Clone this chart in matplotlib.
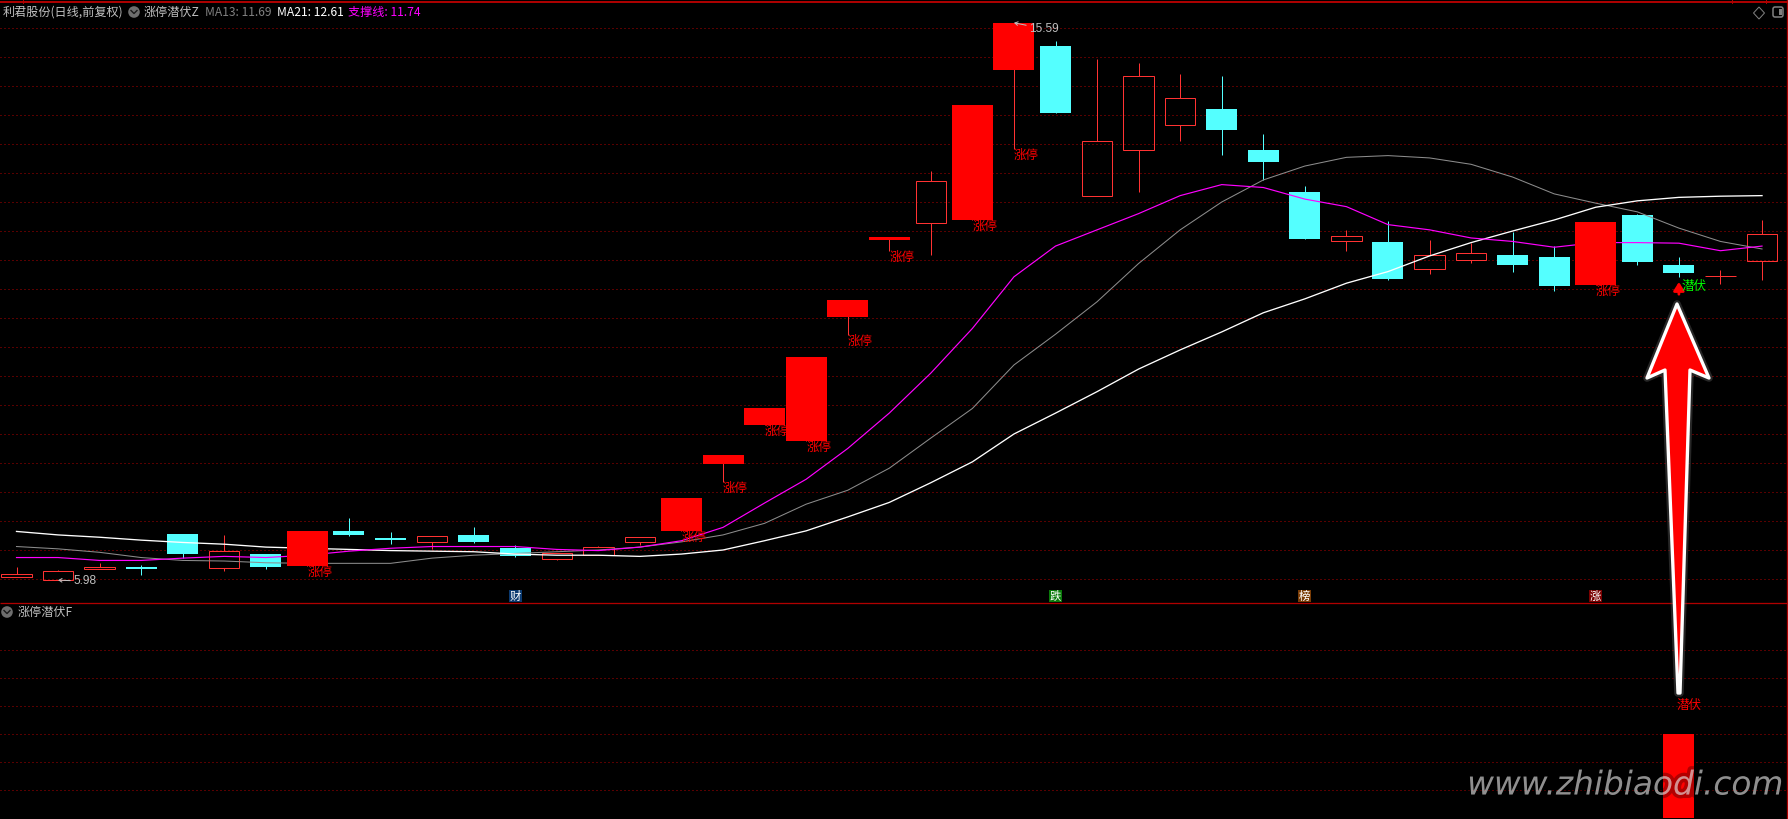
import matplotlib
matplotlib.use("Agg")
import matplotlib.pyplot as plt
import matplotlib.patheffects as pe
from matplotlib.patches import Polygon, Circle, FancyBboxPatch, Rectangle
import numpy as np

plt.rcParams['font.family'] = ['Noto Sans CJK SC', 'DejaVu Sans']

opens = [6.04, 5.99, 6.17, 6.19, 6.78, 6.19, 6.43, 6.23, 6.83, 6.71, 6.63, 6.76, 6.53, 6.35, 6.41,
         6.63, 6.83, 7.98, 8.66, 8.38, 10.52, 11.84, 12.14, 12.19, 14.78, 15.19, 12.61, 13.40, 13.83,
         14.10, 13.40, 12.67, 11.82, 11.81, 11.35, 11.50, 11.59, 11.55, 11.07, 12.28, 11.41, 11.22, 11.49]
closes = [6.08, 6.13, 6.21, 6.18, 6.43, 6.48, 6.21, 6.83, 6.76, 6.68, 6.74, 6.64, 6.40, 6.44, 6.55,
          6.72, 7.40, 8.14, 8.95, 9.83, 10.81, 11.90, 12.87, 14.17, 15.59, 14.03, 13.55, 14.68, 14.29,
          13.74, 13.19, 11.86, 11.91, 11.17, 11.58, 11.62, 11.41, 11.05, 12.16, 11.47, 11.28, 11.22, 11.94]
highs = [6.21, 6.16, 6.28, 6.24, 6.78, 6.76, 6.43, 6.83, 7.05, 6.81, 6.74, 6.90, 6.59, 6.44, 6.57,
         6.72, 7.40, 8.14, 8.95, 9.83, 10.81, 11.90, 13.03, 14.17, 15.59, 15.28, 14.96, 14.90, 14.71,
         14.67, 13.67, 12.78, 12.02, 12.17, 11.84, 11.79, 11.98, 11.74, 12.16, 12.29, 11.55, 11.33, 12.19]
lows = [6.04, 5.98, 6.17, 6.07, 6.36, 6.13, 6.18, 6.23, 6.74, 6.60, 6.52, 6.62, 6.38, 6.33, 6.41,
        6.59, 6.83, 7.68, 8.66, 8.38, 10.21, 11.66, 11.59, 12.19, 13.41, 14.03, 12.61, 12.67, 13.55,
        13.31, 12.88, 11.86, 11.65, 11.15, 11.26, 11.45, 11.29, 10.97, 11.07, 11.41, 11.21, 11.09, 11.16]
ma13 = [6.56, 6.52, 6.46, 6.37, 6.32, 6.31, 6.28, 6.27, 6.27, 6.27, 6.36, 6.41, 6.44, 6.47, 6.50,
        6.55, 6.64, 6.76, 6.96, 7.29, 7.53, 7.91, 8.43, 8.94, 9.69, 10.22, 10.78, 11.44, 12.02,
        12.50, 12.88, 13.12, 13.27, 13.30, 13.26, 13.15, 12.93, 12.64, 12.48, 12.33, 12.05, 11.82, 11.69]
ma21 = [6.82, 6.76, 6.72, 6.67, 6.63, 6.60, 6.55, 6.53, 6.51, 6.49, 6.48, 6.47, 6.43, 6.41, 6.41,
        6.39, 6.43, 6.50, 6.66, 6.83, 7.07, 7.32, 7.66, 8.02, 8.50, 8.86, 9.23, 9.62, 9.95,
        10.26, 10.59, 10.83, 11.10, 11.30, 11.57, 11.80, 12.00, 12.19, 12.41, 12.52, 12.58, 12.60, 12.61]
support = [6.37, 6.37, 6.32, 6.32, 6.36, 6.39, 6.37, 6.41, 6.48, 6.53, 6.56, 6.56, 6.56, 6.51, 6.49,
           6.55, 6.66, 6.89, 7.31, 7.72, 8.25, 8.86, 9.55, 10.32, 11.21, 11.74, 12.02, 12.30, 12.61,
           12.80, 12.75, 12.55, 12.42, 12.11, 12.02, 11.88, 11.82, 11.72, 11.80, 11.80, 11.79, 11.66, 11.74]
limit_up = [7, 16, 17, 18, 19, 20, 21, 23, 24, 38]
news_days = [12, 25, 31, 38]
news_labels = ['财', '跌', '榜', '涨']
news_colors = ['#0b3a70', '#0a7a0a', '#7a3c05', '#7a0000']
lower_day = [40]
lower_vals = [1.0]
grid_prices = np.arange(6.0, 16.0, 0.5)
lower_grid = [1/3, 2/3, 1.0, 4/3, 5/3, 2.0]

RED, HOLLOW, CYAN, GRID = '#ff0000', '#ff3232', '#54ffff', '#b00000'
PX = 0.72
W, H = 1788, 819
x_left, x_right = -16.5 / 41.56, (W - 16.5) / 41.56
days = np.arange(len(opens))

fig = plt.figure(figsize=(W / 100, H / 100), dpi=100, facecolor='black')
ax = fig.add_axes([0, (H - 603) / H, 1, 601 / H], facecolor='black')
ax.set_xlim(x_left, x_right)
ax.set_ylim(6 - 24 / 58, 6 + 577 / 58)
low_ax = fig.add_axes([0, 0, 1, 216 / H], facecolor='black')
low_ax.set_xlim(x_left, x_right)
low_ax.set_ylim(-1 / 84, 1 + 131 / 84)
for a in (ax, low_ax):
    a.set_xticks([])
    a.set_yticks([])
    for s in a.spines.values():
        s.set_visible(False)

dots = (0, (1, 3))
for g in grid_prices:
    ax.axhline(g, color=GRID, lw=PX, ls=dots, zorder=1, snap=True)
for g in lower_grid:
    low_ax.axhline(g, color=GRID, lw=PX, ls=dots, zorder=1, snap=True)

for i in days:
    o, c, hi, lo = opens[i], closes[i], highs[i], lows[i]
    top, bot = max(o, c), min(o, c)
    if i in limit_up:
        ax.vlines(i, lo, hi, color=HOLLOW, lw=PX, zorder=5, snap=True)
        ax.bar(i, top - bot, bottom=bot, width=0.987, color=RED, linewidth=0, zorder=5, antialiased=False)
    elif c < o:
        ax.vlines(i, lo, hi, color=CYAN, lw=PX, zorder=2, snap=True)
        ax.bar(i, max(top - bot, 0.02), bottom=bot, width=0.746, color=CYAN, linewidth=0, zorder=2, antialiased=False)
    else:
        ax.vlines(i, lo, bot, color=HOLLOW, lw=PX, zorder=3, snap=True)
        ax.vlines(i, top, hi, color=HOLLOW, lw=PX, zorder=3, snap=True)
        ax.bar(i, top - bot, bottom=bot, width=0.73, fill=False, edgecolor=HOLLOW, linewidth=PX,
               zorder=3, snap=True)

ax.plot(days, ma13, color='#8c8c8c', lw=0.75, zorder=4)
ax.plot(days, ma21, color='#ffffff', lw=0.95, zorder=4)
ax.plot(days, support, color='#ff00ff', lw=0.85, zorder=4)

for i in limit_up:
    ax.annotate('涨停', xy=(i, lows[i]), xytext=(0, -6.5 * PX), textcoords='offset points',
                ha='left', va='center', color=RED, fontsize=9, zorder=7)

# extreme price callouts
for i, off in ((1, (15, -1)), (24, (15, -6))):
    price = lows[i] if i == 1 else highs[i]
    ax.annotate(f'{price:.2f}', xy=(i, price), xytext=(off[0] * PX, off[1] * PX), textcoords='offset points',
                ha='left', va='center', color='#c0c0c0', fontsize=8.6, family='Liberation Sans', zorder=8,
                arrowprops=dict(arrowstyle='->,head_length=0.25,head_width=0.15', color='#c0c0c0', lw=PX,
                                shrinkA=0, shrinkB=0))

# lurk signal on the day in the main panel
d = lower_day[0]
ax.annotate('', xy=(d, 11.12), xytext=(d, 10.91), zorder=8,
            arrowprops=dict(arrowstyle='-|>,head_length=0.55,head_width=0.35', mutation_scale=9, lw=2,
                            color=RED, shrinkA=0, shrinkB=0))
ax.annotate('潜伏', xy=(d, 11.05), xytext=(3 * PX, 0), textcoords='offset points', ha='left', va='center',
            color='#00ff00', fontsize=9, zorder=8)

for i, lab, col in zip(news_days, news_labels, news_colors):
    ax.text(i, 6 - 17 / 58, lab, ha='center', va='center', color='white', fontsize=8.2, zorder=8,
            bbox=dict(boxstyle='square,pad=0.06', fc=col, ec='none'))

low_ax.bar(lower_day, lower_vals, width=0.746, color=RED, linewidth=0, zorder=3, antialiased=False)
low_ax.annotate('潜伏', xy=(lower_day[0], 1 + 28 / 84), xytext=(-2 * PX, 0), textcoords='offset points',
                ha='left', va='center', color=RED, fontsize=9, zorder=6)

# overlay in image pixels: frame, header, big arrow, watermark
ov = fig.add_axes([0, 0, 1, 1], facecolor='none')
ov.set_xlim(0, W)
ov.set_ylim(H, 0)
ov.axis('off')
FRAME = '#b00000'
ov.plot([0, W], [2.2, 2.2], color=FRAME, lw=1.5 * PX * 1.3, solid_capstyle='butt')
ov.plot([0, W], [603, 603], color=FRAME, lw=PX * 1.3, solid_capstyle='butt')
ov.plot([1787, 1787], [0, H], color=FRAME, lw=PX * 1.3)
for x in (23, 1732, 1766):
    ov.plot([x, x], [0, 2.5], color=FRAME, lw=PX)

header = [(3, '利君股份(日线,前复权)', '#c0c0c0'), (143.5, '涨停潜伏Z', '#c0c0c0'), (205, 'MA13: 11.69', '#808080'),
          (277, 'MA21: 12.61', '#ffffff'), (347.5, '支撑线: 11.74', '#ff00ff')]
for x, s, col in header:
    ov.text(x, 12, s, color=col, fontsize=8.7, ha='left', va='center')
ov.text(17.5, 612, '涨停潜伏F', color='#c0c0c0', fontsize=8.7, ha='left', va='center')

for cx, cy in ((134, 12), (7, 612)):
    ov.add_patch(Circle((cx, cy), 5.8, fc='#6e6e6e', ec='none'))
    ov.plot([cx - 3, cx, cx + 3], [cy - 1.5, cy + 1.5, cy - 1.5], color='#1a1a1a', lw=1.0)

ov.add_patch(Polygon([(1759, 7), (1764.5, 13), (1759, 19), (1753.5, 13)], closed=True, fc='none', ec='#808080', lw=PX))
ov.add_patch(FancyBboxPatch((1773, 7), 10, 10, boxstyle='round,pad=0,rounding_size=2', fc='none', ec='#808080', lw=1.1))
ov.add_patch(Rectangle((1779, 9), 3, 6, fc='#808080', ec='none'))

arrow_pts = [(1677, 304), (1709, 378), (1690, 370), (1680, 693), (1678, 693), (1665, 370), (1647, 378)]
ov.add_patch(Polygon(arrow_pts, closed=True, fc=RED, ec='white', lw=2.4, joinstyle='round', zorder=10,
                     path_effects=[pe.Stroke(linewidth=5.5, foreground='#555555', alpha=0.45), pe.Normal()]))

ov.text(1625, 785, 'www.zhibiaodi.com', color='white', alpha=0.45, fontsize=23.6, style='oblique',
        family='DejaVu Sans', ha='center', va='center', zorder=12,
        path_effects=[pe.Stroke(linewidth=5, foreground='black', alpha=0.3), pe.Normal()])

fig.savefig('out.png', dpi=100, facecolor='black')
